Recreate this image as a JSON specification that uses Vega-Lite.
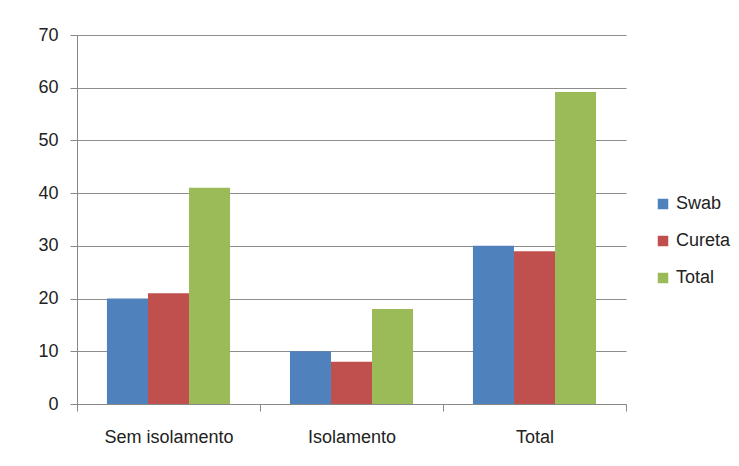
{
  "$schema": "https://vega.github.io/schema/vega-lite/v6.json",
  "width": 549,
  "height": 369,
  "autosize": "none",
  "padding": {"left": 77, "top": 35, "right": 113, "bottom": 62},
  "background": "white",
  "data": {
    "values": [
      {"grupo": "Sem isolamento", "serie": "Swab", "valor": 20},
      {"grupo": "Sem isolamento", "serie": "Cureta", "valor": 21},
      {"grupo": "Sem isolamento", "serie": "Total", "valor": 41},
      {"grupo": "Isolamento", "serie": "Swab", "valor": 10},
      {"grupo": "Isolamento", "serie": "Cureta", "valor": 8},
      {"grupo": "Isolamento", "serie": "Total", "valor": 18},
      {"grupo": "Total", "serie": "Swab", "valor": 30},
      {"grupo": "Total", "serie": "Cureta", "valor": 29},
      {"grupo": "Total", "serie": "Total", "valor": 59.2}
    ]
  },
  "mark": {"type": "bar"},
  "encoding": {
    "x": {
      "field": "grupo",
      "type": "nominal",
      "sort": ["Sem isolamento", "Isolamento", "Total"],
      "scale": {"paddingInner": 0, "paddingOuter": 0},
      "axis": {
        "title": null,
        "labelAngle": 0,
        "tickBand": "extent",
        "grid": false,
        "tickSize": 7,
        "labelPadding": 17,
        "domainColor": "#888888",
        "tickColor": "#888888"
      }
    },
    "xOffset": {
      "field": "serie",
      "sort": ["Swab", "Cureta", "Total"],
      "scale": {"paddingInner": 0, "paddingOuter": 0.73}
    },
    "y": {
      "field": "valor",
      "type": "quantitative",
      "scale": {"domain": [0, 70]},
      "axis": {
        "title": null,
        "values": [0, 10, 20, 30, 40, 50, 60, 70],
        "tickSize": 7,
        "labelPadding": 12,
        "domainColor": "#888888",
        "tickColor": "#888888",
        "gridColor": "#8c8c8c",
        "gridWidth": 1
      }
    },
    "color": {
      "field": "serie",
      "type": "nominal",
      "sort": ["Swab", "Cureta", "Total"],
      "scale": {"domain": ["Swab", "Cureta", "Total"], "range": ["#4F81BD", "#C0504D", "#9BBB59"]},
      "legend": {
        "title": null,
        "orient": "none",
        "legendX": 577,
        "legendY": 160,
        "symbolType": "square",
        "symbolSize": 110,
        "symbolStrokeWidth": 0,
        "rowPadding": 19,
        "labelFontSize": 18,
        "labelOffset": 4
      }
    }
  },
  "config": {
    "font": "Liberation Sans",
    "view": {"stroke": null},
    "axis": {"labelFontSize": 18, "labelColor": "#222222", "domainWidth": 1, "tickWidth": 1},
    "legend": {"labelColor": "#222222", "labelFont": "Liberation Sans"}
  }
}
